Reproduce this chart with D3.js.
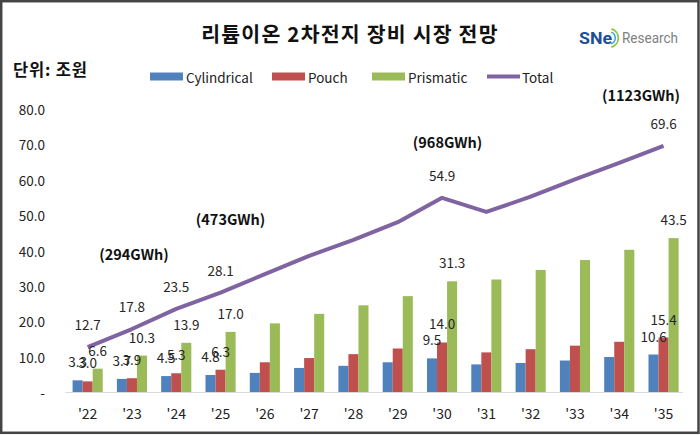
<!DOCTYPE html>
<html>
<head>
<meta charset="utf-8" />
<style>
  html, body { margin: 0; padding: 0; background: #fff; }
  svg { display: block; font-family: "Noto Sans CJK KR", "Noto Sans", sans-serif; }
</style>
</head>
<body>
<svg id="chart"></svg>
<script src="https://d3js.org/d3.v7.min.js"></script>
<script>
  // data (units: 조원)
  const years = ["'22", "'23", "'24", "'25", "'26", "'27", "'28", "'29", "'30", "'31", "'32", "'33", "'34", "'35"];
  const cylindrical = [3.3, 3.7, 4.5, 4.8, 5.4, 6.8, 7.4, 8.4, 9.5, 7.8, 8.2, 8.9, 9.9, 10.6];
  const pouch = [3.0, 3.9, 5.3, 6.3, 8.4, 9.6, 10.7, 12.3, 14.0, 11.2, 12.1, 13.1, 14.2, 15.4];
  const prismatic = [6.6, 10.3, 13.9, 17.0, 19.4, 22.1, 24.5, 27.1, 31.3, 31.8, 34.5, 37.3, 40.2, 43.5];
  const total = [12.7, 17.8, 23.5, 28.1, 33.3, 38.5, 43.0, 48.0, 54.9, 50.9, 55.2, 60.1, 64.8, 69.6];
  const labelledYears = ["'22", "'23", "'24", "'25", "'30", "'35"];
  const yTicks = [0, 10, 20, 30, 40, 50, 60, 70, 80];
  const gwhYears = ["'23", "'25", "'30", "'35"];
  const gwhText = ["(294GWh)", "(473GWh)", "(968GWh)", "(1123GWh)"];

  const seriesNames = ["Cylindrical", "Pouch", "Prismatic"];
  const seriesValues = [cylindrical, pouch, prismatic];
  const colors = ["#4F81BD", "#C0504D", "#9BBB59"];
  const lineColor = "#8064A2";

  const width = 700;
  const height = 435;

  const svg = d3.select("#chart").attr("width", width).attr("height", height);

  // frame
  svg.append("rect")
    .attr("x", 1.2).attr("y", 1.2)
    .attr("width", 697.3).attr("height", 431.6)
    .attr("fill", "#fff")
    .attr("stroke", "#444").attr("stroke-width", 2.5);

  const x = d3.scaleBand().domain(years).range([65.5, 685.7]).paddingInner(0.32).paddingOuter(0.16);
  const x1 = d3.scaleBand().domain(seriesNames).range([0, x.bandwidth()]);
  const y = d3.scaleLinear().domain([0, 80]).range([392, 109]);
  const cx = (yr) => x(yr) + x.bandwidth() / 2;

  // title + unit
  svg.append("text")
    .attr("x", 350).attr("y", 32.5)
    .attr("text-anchor", "middle").attr("dominant-baseline", "central")
    .attr("font-size", 20.5).attr("font-weight", "bold").attr("fill", "#111")
    .attr("letter-spacing", 1.2)
    .text("리튬이온 2차전지 장비 시장 전망");

  svg.append("text")
    .attr("x", 13).attr("y", 69)
    .attr("dominant-baseline", "central")
    .attr("font-size", 16.5).attr("font-weight", "bold").attr("fill", "#111")
    .attr("letter-spacing", 0.8)
    .text("단위: 조원");

  // logo
  const logo = svg.append("g").attr("transform", "translate(579,38)");
  logo.append("text")
    .attr("dominant-baseline", "central")
    .attr("font-family", "Roboto, sans-serif")
    .attr("font-size", 16).attr("font-weight", "bold").attr("fill", "#1d4f96")
    .attr("textLength", 33).attr("lengthAdjust", "spacingAndGlyphs")
    .text("SNe");
  const arcGen = d3.arc();
  logo.append("path")
    .attr("transform", "translate(30,0)")
    .attr("d", arcGen({ innerRadius: 5.5, outerRadius: 7, startAngle: 0.35, endAngle: Math.PI - 0.35 }))
    .attr("fill", "#3aa8d8");
  logo.append("path")
    .attr("transform", "translate(30,0)")
    .attr("d", arcGen({ innerRadius: 8.5, outerRadius: 10.2, startAngle: 0.25, endAngle: Math.PI - 0.25 }))
    .attr("fill", "#8cc63e");
  logo.append("text")
    .attr("x", 43).attr("dominant-baseline", "central")
    .attr("font-family", "'Liberation Sans Narrow', Roboto, sans-serif")
    .attr("font-size", 15).attr("fill", "#808080")
    .attr("textLength", 56).attr("lengthAdjust", "spacingAndGlyphs")
    .text("Research");

  // legend
  const legendX = [150, 272, 372, 487];
  const legend = svg.append("g").attr("font-size", 13.5).attr("fill", "#222");
  seriesNames.forEach((name, i) => {
    legend.append("rect")
      .attr("x", legendX[i]).attr("y", 72.5)
      .attr("width", 33).attr("height", 8)
      .attr("fill", colors[i]);
    legend.append("text")
      .attr("x", legendX[i] + 36).attr("y", 76.5)
      .attr("dominant-baseline", "central")
      .text(name);
  });
  legend.append("line")
    .attr("x1", legendX[3]).attr("x2", legendX[3] + 33)
    .attr("y1", 76.5).attr("y2", 76.5)
    .attr("stroke", lineColor).attr("stroke-width", 4);
  legend.append("text")
    .attr("x", legendX[3] + 35).attr("y", 76.5)
    .attr("dominant-baseline", "central")
    .text("Total");

  // y axis labels
  svg.append("g")
    .attr("font-size", 13.5).attr("fill", "#222").attr("text-anchor", "end")
    .selectAll("text")
    .data(yTicks)
    .join("text")
    .attr("x", 45)
    .attr("y", (d) => y(d))
    .attr("dominant-baseline", "central")
    .text((d) => (d === 0 ? "-" : d3.format(".1f")(d)));

  // baseline
  svg.append("line")
    .attr("x1", 65.5).attr("x2", 683)
    .attr("y1", y(0) + 0.5).attr("y2", y(0) + 0.5)
    .attr("stroke", "#d9d9d9").attr("stroke-width", 1.2);

  // x labels
  svg.append("g")
    .attr("font-size", 14).attr("fill", "#222").attr("text-anchor", "middle")
    .selectAll("text")
    .data(years)
    .join("text")
    .attr("x", (d) => cx(d))
    .attr("y", 413)
    .attr("dominant-baseline", "central")
    .text((d) => d);

  // bars
  seriesNames.forEach((name, s) => {
    svg.append("g")
      .attr("fill", colors[s])
      .selectAll("rect")
      .data(years.map((yr, i) => ({ yr, v: seriesValues[s][i] })))
      .join("rect")
      .attr("x", (d) => x(d.yr) + x1(name))
      .attr("y", (d) => y(d.v))
      .attr("width", x1.bandwidth())
      .attr("height", (d) => y(0) - y(d.v));
  });

  // total line
  const line = d3.line().x((d) => cx(d.yr)).y((d) => y(d.v));
  svg.append("path")
    .datum(years.map((yr, i) => ({ yr, v: total[i] })))
    .attr("d", line)
    .attr("fill", "none")
    .attr("stroke", lineColor)
    .attr("stroke-width", 4)
    .attr("stroke-linejoin", "round");

  // value labels
  const labels = svg.append("g")
    .attr("font-size", 13.5).attr("fill", "#262626").attr("text-anchor", "middle");
  years.forEach((yr, i) => {
    if (!labelledYears.includes(yr)) return;
    seriesNames.forEach((name, s) => {
      labels.append("text")
        .attr("x", x(yr) + x1(name) + x1.bandwidth() / 2)
        .attr("y", y(seriesValues[s][i]) - 19)
        .attr("dominant-baseline", "central")
        .text(seriesValues[s][i].toFixed(1));
    });
    labels.append("text")
      .attr("x", cx(yr))
      .attr("y", y(total[i]) - 23)
      .attr("dominant-baseline", "central")
      .text(total[i].toFixed(1));
  });

  // capacity annotations
  const gwhShift = [[2, -76], [10, -74.5], [5.5, -56], [-22.5, -51.6]];
  const ann = svg.append("g")
    .attr("font-size", 14.5).attr("font-weight", "bold").attr("fill", "#111").attr("text-anchor", "middle");
  gwhYears.forEach((yr, k) => {
    const i = years.indexOf(yr);
    ann.append("text")
      .attr("x", cx(yr) + gwhShift[k][0])
      .attr("y", y(total[i]) + gwhShift[k][1])
      .attr("dominant-baseline", "central")
      .text(gwhText[k]);
  });
</script>
</body>
</html>
